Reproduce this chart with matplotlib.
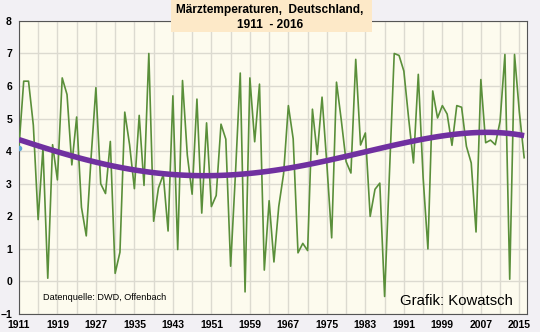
import numpy as np
import matplotlib.pyplot as plt
from matplotlib.patches import Rectangle

plt.rcParams['font.family'] = ['Liberation Sans', 'DejaVu Sans']

years = list(range(1911, 2017))
temps = [4.1, 6.15, 6.15, 4.8, 1.9, 4.1, 0.1, 4.2, 3.12, 6.25,
         5.74, 3.58, 5.05, 2.28, 1.4, 3.8, 5.95, 3.0, 2.7, 4.3,
         0.25, 0.9, 5.2, 4.2, 2.85, 5.1, 2.95, 7.0, 1.85, 2.87,
         3.28, 1.55, 5.7, 0.98, 6.17, 3.88, 2.68, 5.6, 2.1, 4.87,
         2.3, 2.64, 4.83, 4.37, 0.47, 3.3, 6.4, -0.32, 6.25, 4.29,
         6.06, 0.35, 2.48, 0.6, 2.3, 3.3, 5.4, 4.38, 0.88, 1.17,
         0.95, 5.29, 3.9, 5.66, 3.6, 1.34, 6.12, 4.95, 3.68, 3.33,
         6.82, 4.19, 4.56, 2.0, 2.83, 3.02, -0.46, 3.3, 7.0, 6.94,
         6.46, 5.0, 3.64, 6.36, 3.2, 1.0, 5.85, 5.02, 5.4, 5.14,
         4.18, 5.4, 5.35, 4.15, 3.64, 1.52, 6.2, 4.26, 4.34, 4.2,
         4.92, 6.97, 0.07, 6.97, 5.2, 3.8]

x_ticks = list(range(1911, 2017, 8))
y_ticks = list(range(-1, 9))

yrs = np.array(years)
t = np.array(temps)
# polynomial trend like the spreadsheet trendline
coef = np.polyfit(yrs - 1911, t, 4)
trend = np.polyval(coef, yrs - 1911)

fig = plt.figure(figsize=(5.4, 3.32), dpi=100, facecolor='#f2f0f4')
ax = fig.add_axes([0.035, 0.054, 0.941, 0.883])
ax.set_facecolor('#fdfbee')

ax.plot(yrs, t, color='#5a8f3a', lw=1.2, zorder=3)
ax.plot(yrs[0], t[0], 'o', ms=3, color='#5fa8d8', zorder=4)
ax.plot(yrs, trend, color='#7030a0', lw=4, solid_capstyle='butt', zorder=4)

ax.set_xlim(1911, 2016.6)
ax.set_ylim(-1, 8)
ax.set_xticks(x_ticks)
ax.set_xticks(range(1915, 2017, 8), minor=True)
ax.set_yticks(y_ticks)
ax.grid(True, which='both', color='#dcdad0', lw=1.0, zorder=0)
ax.tick_params(which='both', length=0, pad=5)
ax.tick_params(axis='x', pad=4)
for lbl in ax.get_xticklabels() + ax.get_yticklabels():
    lbl.set_fontsize(7.5)
    lbl.set_fontweight('bold')
for s in ax.spines.values():
    s.set_color('#555555')
    s.set_linewidth(0.8)

# title box
fig.patches.append(Rectangle((171 / 540, 1 - 32 / 332), 201 / 540, 32 / 332,
                             transform=fig.transFigure, facecolor='#fde9c8',
                             edgecolor='none', zorder=5))
fig.text(270 / 540, 1 - 17.5 / 332, 'Märztemperaturen,  Deutschland,\n1911  - 2016',
         ha='center', va='center', fontsize=8.6, fontweight='bold',
         linespacing=1.3, zorder=6)

ax.text(1916.0, -0.5, 'Datenquelle: DWD, Offenbach', fontsize=6.6,
        family=['Liberation Sans Narrow', 'Liberation Sans'],
        ha='left', va='center', zorder=6)
ax.text(1990.2, -0.6, 'Grafik: Kowatsch', fontsize=10.7,
        ha='left', va='center', zorder=6)

fig.savefig('out.png', dpi=100, facecolor=fig.get_facecolor())
